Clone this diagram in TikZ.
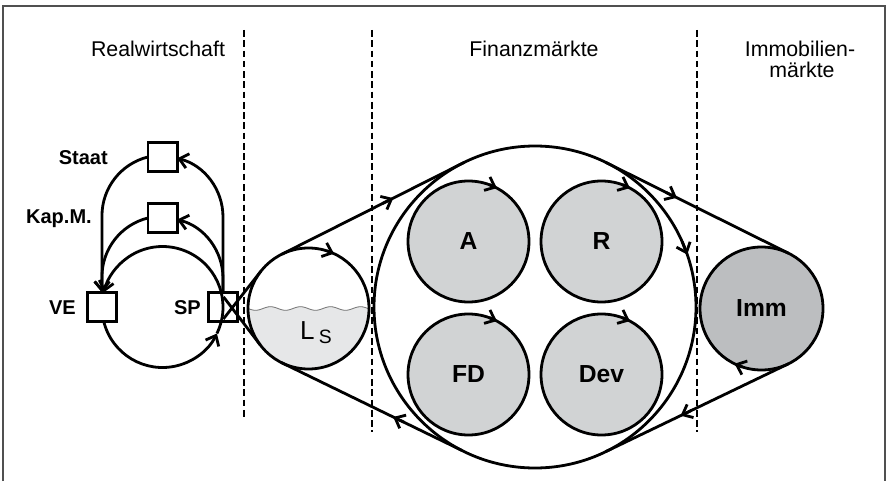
\documentclass[tikz,border=0pt]{standalone}
\usepackage{fontspec}
\setmainfont{Liberation Sans}
\usetikzlibrary{arrows.meta,calc}
\definecolor{framec}{HTML}{505050}
\definecolor{ballc}{HTML}{D1D3D4}
\definecolor{immc}{HTML}{BCBEC0}
\definecolor{waterc}{HTML}{E6E7E8}
\definecolor{wavec}{HTML}{707070}
\begin{document}
\begin{tikzpicture}[x=0.75pt,y=-0.75pt,
  ln/.style={line width=2.1pt},
  arw/.style={line width=2.1pt,-{Straight Barb[length=6.5pt,width=11pt]}},
  finc/.style={circle,draw,line width=2.1pt,fill=white,minimum size=241.5pt,inner sep=0pt,outer sep=0pt},
  ball/.style={circle,draw,line width=2.1pt,fill=ballc,minimum size=90.75pt,inner sep=0pt,outer sep=0pt,font=\fontsize{18.5}{18.5}\selectfont\bfseries},
  lsc/.style={circle,draw,line width=2.1pt,minimum size=90.75pt,inner sep=0pt,outer sep=0pt},
  box/.style={rectangle,draw,line width=2pt,minimum size=22pt,inner sep=0pt,outer sep=0pt},
  lab/.style={font=\fontsize{15}{15}\selectfont\bfseries,anchor=east,inner sep=0pt},
  title/.style={font=\fontsize{16}{17}\selectfont,inner sep=0pt},
  divider/.style={line width=1.3pt,dash pattern=on 5pt off 2.7pt}
]
\useasboundingbox (0,0) rectangle (887,481);
% frame
\draw[framec,line width=1.5pt] (3,481) -- (3,6) -- (885,6) -- (885,481);
% dividers
\draw[divider] (244,30) -- (244,417);
\draw[divider] (372,30) -- (372,432);
\draw[divider] (697,30) -- (697,432);
% titles
\node[title] (t1) at (158,49) {Realwirtschaft};
\node[title] (t2) at (534,49) {Finanzmärkte};
\node[title] (t3) at (800,49) {Immobilien-};
\node[title] (t4) at (802,70) {märkte};

% big circle and balls
\node[finc] (Fin) at (535,307) {};
\node[ball] (A) at (468.5,241.5) {A};
\node[ball] (R) at (601.5,241.5) {R};
\node[ball] (FD) at (468.5,374.5) {FD};
\node[ball] (Dev) at (601.5,374.5) {Dev};
\node[ball,fill=immc,minimum size=92.25pt] (Imm) at (761.5,308.5) {Imm};

% L_S circle with water
\begin{scope}
\clip (308.5,308.5) circle[radius=60.5];
\fill[waterc] plot[domain=240:380,samples=90] (\x,{308.5+1.8*sin(12*(\x-248))}) -- (380,380) -- (240,380) -- cycle;
\draw[wavec,line width=0.6pt] plot[domain=240:380,samples=90] (\x,{308.5+1.8*sin(12*(\x-248))});
\end{scope}
\node[lsc] (Ls) at (308.5,308.5) {};
\node (LsT) at (316,333) {\fontsize{19.5}{19.5}\selectfont L\,\raisebox{-3pt}{\fontsize{14.5}{14.5}\selectfont S}};

% belt lines
\coordinate (P) at (232,308);
\draw[ln] ($(Ls.142.3)!1.3!(P)$) -- (Ls.142.3);
\draw[ln] ($(Ls.217.7)!1.3!(P)$) -- (Ls.217.7);
\draw[ln] (Ls.116.3) -- (Fin.116.3);
\draw[ln] (Fin.243.7) -- (Ls.243.7);
\draw[ln] (Fin.64) -- (Imm.64);
\draw[ln] (Imm.296) -- (Fin.296);
% arrows on lines
\draw[arw] ($(Ls.116.3)!0.55!(Fin.116.3)$) -- ($(Ls.116.3)!0.61!(Fin.116.3)$);
\draw[arw] ($(Fin.243.7)!0.32!(Ls.243.7)$) -- ($(Fin.243.7)!0.38!(Ls.243.7)$);
\draw[arw] ($(Fin.64)!0.33!(Imm.64)$) -- ($(Fin.64)!0.39!(Imm.64)$);
\draw[arw] ($(Imm.296)!0.53!(Fin.296)$) -- ($(Imm.296)!0.59!(Fin.296)$);
% arrows on circles
\draw[arw] (Ls.72) -- (Ls.65);
\draw[arw] (A.70) -- (A.62);
\draw[arw] (R.70) -- (R.62);
\draw[arw] (FD.70) -- (FD.62);
\draw[arw] (Dev.70) -- (Dev.62);
\draw[arw] (Fin.24) -- (Fin.19);
\draw[arw] (Imm.252) -- (Imm.244);

% left: real economy
\node[box] (SPpos) at (223,307) {};
\coordinate (mc) at (162.5,307);
\node[box,fill=white] (Staat) at (162.5,157) {};
\node[box,fill=white] (KapM) at (162.5,218) {};
\draw[arw] (SPpos.north) -- ++(0,-75.3) arc[start angle=0,end angle=-76,radius=60.5];
\draw[arw] (SPpos.north) -- ++(0,-14) arc[start angle=0,end angle=-76,radius=60.5];
\node[box,fill=white] (VE) at (102,307) {};
\draw[arw] (Staat.west) arc[start angle=-104,end angle=-180,radius=60.5] -- (VE.north);
\draw[arw] (KapM.west) arc[start angle=-104,end angle=-180,radius=60.5] -- (VE.north);
\draw[arw] ($(mc)+(26:60.5)$) arc[start angle=26,end angle=-166,radius=60.5];
\draw[arw] ($(mc)+(166:60.5)$) arc[start angle=166,end angle=26,radius=60.5];
\node[box,fill=white] (Staat2) at (162.5,157) {};
\node[box,fill=white] (KapM2) at (162.5,218) {};
\node[box,fill=white] (VE2) at (102,307) {};
\node[box] (SP) at (223,307) {};

\node[lab] (lStaat) at (108,158) {Staat};
\node[lab] (lKap) at (92,219) {Kap.M.};
\node[lab] (lVE) at (76,308) {VE};
\node[lab] (lSP) at (201,308) {SP};
\end{tikzpicture}
\end{document}
